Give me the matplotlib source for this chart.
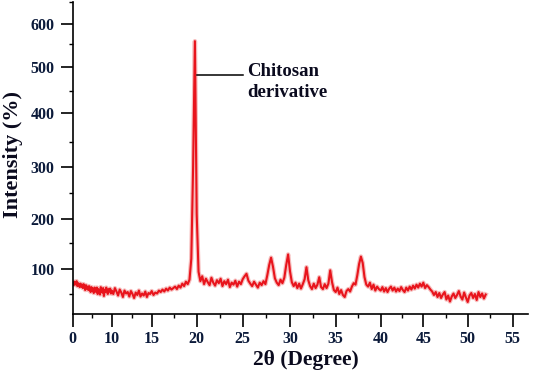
import numpy as np
import matplotlib
matplotlib.use("Agg")
import matplotlib.pyplot as plt
from matplotlib.ticker import FixedLocator

# XRD scan of the chitosan derivative, 0.2 degree steps from 0 to 52
two_theta = np.round(np.arange(0, 52.01, 0.2), 1)
intensity = [
    72, 68, 75, 69, 73, 76, 66, 72, 70, 64,        # 0 - 1.8
    71, 65, 69, 62, 70, 66, 58, 68, 61, 65,        # 2 - 3.8
    58, 66, 62, 54, 64, 57, 61, 52, 63, 59,        # 4 - 5.8
    54, 63, 50, 60, 57, 49, 64, 58, 53, 62,        # 6 - 7.8
    46, 58, 54, 63, 56, 50, 60, 55, 61, 51,        # 8 - 9.8
    57, 50, 62, 55, 47, 59, 53, 44, 57, 51,        # 10 - 11.8
    54, 45, 56, 50, 42, 53, 48, 57, 45, 51,        # 12 - 13.8
    47, 55, 44, 52, 50, 56, 48, 53, 51, 57,        # 14 - 15.8
    54, 59, 55, 61, 57, 63, 59, 62, 65, 60,        # 16 - 17.8
    67, 63, 71, 66, 75, 70, 79, 120, 300, 558,     # 18 - 19.8
    210, 95, 76, 86, 70, 81, 74, 68, 83, 73,       # 20 - 21.8
    67, 78, 72, 81, 66, 76, 70, 79, 64, 73,        # 22 - 23.8
    69, 77, 65, 75, 70, 80, 86, 91, 77, 71,        # 24 - 25.8
    66, 75, 69, 63, 73, 68, 76, 70, 88, 108,       # 26 - 27.8
    122, 105, 82, 73, 68, 79, 72, 83, 108, 128,    # 28 - 29.8
    96, 74, 66, 73, 62, 71, 61, 70, 80, 104,       # 30 - 31.8
    78, 66, 60, 71, 62, 69, 84, 64, 60, 70,        # 32 - 33.8
    62, 71, 98, 74, 58, 54, 63, 50, 58, 48,        # 34 - 35.8
    44, 56, 60, 55, 65, 72, 69, 88, 110, 124,      # 36 - 37.8
    112, 84, 69, 65, 73, 60, 69, 57, 65, 60,       # 38 - 39.8
    57, 64, 55, 62, 54, 61, 65, 57, 63, 55,        # 40 - 41.8
    61, 56, 64, 58, 54, 63, 57, 65, 59, 67,        # 42 - 43.8
    61, 69, 63, 71, 65, 73, 62, 68, 64, 59,        # 44 - 45.8
    55, 48, 54, 44, 52, 42, 49, 54, 39, 47,        # 46 - 47.8
    35, 45, 51, 42, 48, 56, 45, 39, 53, 43,        # 48 - 49.8
    34, 47, 52, 42, 50, 38, 54, 44, 51, 41,        # 50 - 51.8
    49,                                            # 52
]

x_ticks = [0, 10, 15, 20, 25, 30, 35, 40, 45, 50, 55]
x_minor = [5, 12.5, 17.5, 22.5, 27.5, 32.5, 37.5, 42.5, 47.5, 52.5]
y_ticks = [100, 200, 300, 400, 500, 600]
y_minor = [50, 150, 250, 350, 450, 550, 650]

# the printed axes are not evenly spaced, so calibrate them against tick positions
x_cal_val = [-100, 0, 10, 15, 20, 25, 30, 35, 40, 45, 50, 55, 200]
x_cal_pos = [-327, 72.7, 111.7, 151.7, 196.7, 242.7, 290, 335.7, 380.7, 423.3, 467.7, 512.7, 1817]
y_cal_val = [-1000, 50, 100, 150, 200, 250, 300, 350, 400, 450, 500, 550, 600, 650, 2000]
y_cal_pos = [819, 294, 269.3, 242.7, 219.3, 193.3, 166.7, 142.3, 113.3, 90.7, 67.3, 44.3, 24, 2, -592]
y_cal_up = [-p for p in y_cal_pos]


def x_fwd(v):
    return np.interp(v, x_cal_val, x_cal_pos)


def x_inv(p):
    return np.interp(p, x_cal_pos, x_cal_val)


def y_fwd(v):
    return np.interp(v, y_cal_val, y_cal_up)


def y_inv(p):
    return np.interp(p, y_cal_up, y_cal_val)


plt.rcParams["font.family"] = ["Liberation Serif", "DejaVu Serif"]
plt.rcParams["font.weight"] = "bold"

fig = plt.figure(figsize=(5.33, 3.74), dpi=100)
ax = fig.add_axes([72.7 / 533, 60 / 374, 455.3 / 533, 312.3 / 374])

ax.set_xscale("function", functions=(x_fwd, x_inv))
ax.set_yscale("function", functions=(y_fwd, y_inv))

# soft pink halo under the red trace, like the scanned original
ax.plot(two_theta, intensity, color="#f3a0a0", lw=3.2, alpha=0.7)
ax.plot(two_theta, intensity, color="#e8141c", lw=1.5)

ax.set_xlim(0, 56.7)
ax.set_ylim(10, 651)

ax.xaxis.set_major_locator(FixedLocator(x_ticks))
ax.xaxis.set_minor_locator(FixedLocator(x_minor))
ax.yaxis.set_major_locator(FixedLocator(y_ticks))
ax.yaxis.set_minor_locator(FixedLocator(y_minor))
ax.set_xticklabels([str(t) for t in x_ticks])
ax.set_yticklabels([str(t) for t in y_ticks])
ax.xaxis.set_minor_formatter(plt.NullFormatter())
ax.yaxis.set_minor_formatter(plt.NullFormatter())

tick_color = "#0b1a3a"
ax.tick_params(which="major", direction="out", length=9, width=1.2,
               labelsize=11.5, labelcolor=tick_color, pad=4)
ax.tick_params(axis="x", which="major", pad=3)
ax.tick_params(which="minor", direction="out", length=3, width=1.0)

for side in ["top", "right"]:
    ax.spines[side].set_visible(False)
for side in ["left", "bottom"]:
    ax.spines[side].set_linewidth(1.2)

ax.set_xlabel("2θ (Degree)", fontsize=15.5, fontweight="bold", color="#0a0a1e")
ax.set_ylabel("Intensity (%)", fontsize=16, fontweight="bold", color="#0a0a1e")
ax.xaxis.set_label_coords(0.512, -0.148)
ax.yaxis.set_label_coords(-0.132, 0.512)
ax.xaxis.label.set_va("center")
ax.yaxis.label.set_va("center")

# peak label
ax.plot([20.05, 25.0], [484, 484], color="black", lw=1.1)
ax.text(25.5, 509, "Chitosan\nderivative", fontsize=13.5, fontweight="bold",
        color="#0a0a1e", ha="left", va="top", linespacing=1.25)

fig.savefig("out.png", dpi=100)
